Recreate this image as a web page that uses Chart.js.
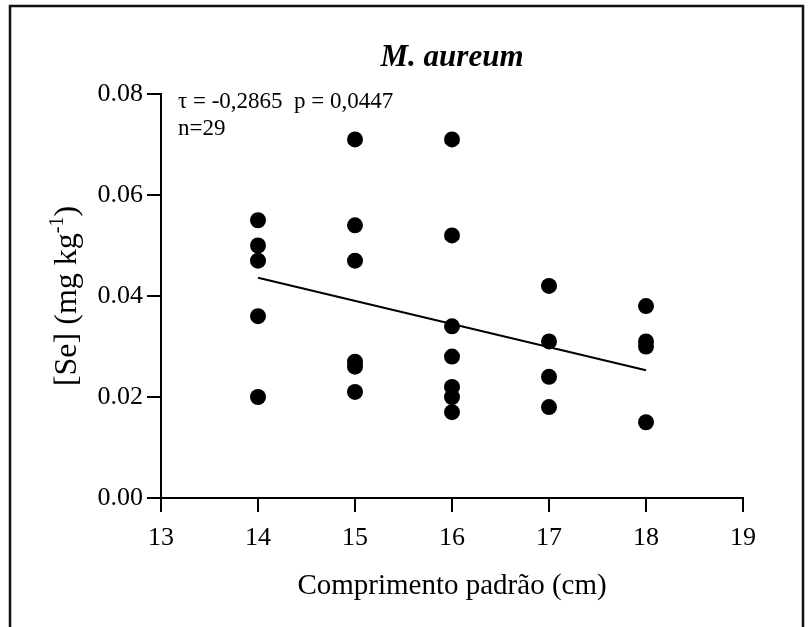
<!DOCTYPE html>
<html>
<head>
<meta charset="utf-8">
<script src="https://cdn.jsdelivr.net/npm/chart.js@4/dist/chart.umd.min.js"></script>
<style>
  html, body { margin: 0; padding: 0; background: #fff; }
  #wrap { width: 811px; height: 627px; position: relative; }
</style>
</head>
<body>
<div id="wrap"><canvas id="chart" width="811" height="627"></canvas></div>
<script>
// Standard length (cm) and selenium concentration (mg/kg) for each fish
const lengthCm = [
  14, 14, 14, 14, 14,
  15, 15, 15, 15, 15, 15,
  16, 16, 16, 16, 16, 16, 16,
  17, 17, 17, 17,
  18, 18, 18, 18
];
const seleniumMgKg = [
  0.055, 0.050, 0.047, 0.036, 0.020,
  0.071, 0.054, 0.047, 0.027, 0.026, 0.021,
  0.071, 0.052, 0.034, 0.028, 0.022, 0.020, 0.017,
  0.042, 0.031, 0.024, 0.018,
  0.038, 0.031, 0.030, 0.015
];

// Fitted trend line end points
const trendX = [14, 18];
const trendY = [0.0436, 0.0253];

// Axis ranges and tick steps
const xRange = [13, 19];
const yRange = [0, 0.08];
const xStep = 1;
const yStep = 0.02;

// Text
const chartTitle = 'M. aureum';
const statsLine1 = 'τ = -0,2865  p = 0,0447';
const statsLine2 = 'n=29';
const xTitle = 'Comprimento padrão (cm)';
const yTitleMain = '[Se] (mg kg';
const yTitleSup = '-1';
const yTitleEnd = ')';

const SERIF = '"Liberation Serif", "Times New Roman", serif';

const points = lengthCm.map((x, i) => ({ x: x, y: seleniumMgKg[i] }));
const trend = trendX.map((x, i) => ({ x: x, y: trendY[i] }));

// Draws the frame, title, statistics and axis titles
const textPlugin = {
  id: 'chartText',
  afterDraw(chart) {
    const ctx = chart.ctx;
    const area = chart.chartArea;
    const cx = (area.left + area.right) / 2;
    const cy = (area.top + area.bottom) / 2;
    ctx.save();
    ctx.fillStyle = '#000';
    ctx.strokeStyle = '#111';

    // outer frame
    ctx.lineWidth = 2.5;
    ctx.beginPath();
    ctx.moveTo(10, 640);
    ctx.lineTo(10, 6);
    ctx.lineTo(803, 6);
    ctx.lineTo(803, 640);
    ctx.stroke();

    // title
    ctx.font = 'italic bold 31px ' + SERIF;
    ctx.textAlign = 'center';
    ctx.textBaseline = 'alphabetic';
    ctx.fillText(chartTitle, cx, 66);

    // statistics
    ctx.font = '23px ' + SERIF;
    ctx.textAlign = 'left';
    ctx.fillText(statsLine1, area.left + 17, 108);
    ctx.fillText(statsLine2, area.left + 17, 135);

    // x axis title
    ctx.font = '29px ' + SERIF;
    ctx.textAlign = 'center';
    ctx.fillText(xTitle, cx, 594);

    // y axis title with superscript
    const mainFont = '32px ' + SERIF;
    const supFont = '20px ' + SERIF;
    ctx.font = mainFont;
    const w1 = ctx.measureText(yTitleMain).width;
    const w3 = ctx.measureText(yTitleEnd).width;
    ctx.font = supFont;
    const w2 = ctx.measureText(yTitleSup).width;
    const total = w1 + w2 + w3;
    ctx.translate(76, cy);
    ctx.rotate(-Math.PI / 2);
    ctx.textAlign = 'left';
    const x0 = -total / 2;
    ctx.font = mainFont;
    ctx.fillText(yTitleMain, x0, 0);
    ctx.font = supFont;
    ctx.fillText(yTitleSup, x0 + w1, -13);
    ctx.font = mainFont;
    ctx.fillText(yTitleEnd, x0 + w1 + w2, 0);

    ctx.restore();
  }
};

const axisCommon = {
  grid: {
    drawOnChartArea: false,
    drawTicks: true,
    color: '#000',
    lineWidth: 2,
    tickLength: 14,
    tickWidth: 2,
    tickColor: '#000'
  },
  border: { display: true, color: '#000', width: 2 }
};

new Chart(document.getElementById('chart'), {
  type: 'scatter',
  data: {
    datasets: [
      {
        label: 'trend',
        data: trend,
        showLine: true,
        borderColor: '#000',
        borderWidth: 2,
        pointRadius: 0,
        fill: false,
        order: 2
      },
      {
        label: 'Se',
        data: points,
        pointRadius: 8,
        pointHoverRadius: 8,
        backgroundColor: '#000',
        borderColor: '#000',
        borderWidth: 0,
        order: 1
      }
    ]
  },
  options: {
    responsive: false,
    devicePixelRatio: 1,
    animation: false,
    events: [],
    layout: { padding: { left: 0, right: 68, top: 94, bottom: 0 } },
    plugins: {
      legend: { display: false },
      tooltip: { enabled: false },
      title: { display: false }
    },
    scales: {
      x: {
        type: 'linear',
        min: xRange[0],
        max: xRange[1],
        ...axisCommon,
        ticks: {
          stepSize: xStep,
          color: '#000',
          padding: 11,
          font: { family: SERIF, size: 26 }
        },
        afterFit(scale) { scale.height = 129; }
      },
      y: {
        type: 'linear',
        min: yRange[0],
        max: yRange[1],
        ...axisCommon,
        ticks: {
          stepSize: yStep,
          color: '#000',
          padding: 4,
          font: { family: SERIF, size: 26 },
          callback: (v) => v.toFixed(2)
        },
        afterFit(scale) { scale.width = 161; }
      }
    }
  },
  plugins: [textPlugin]
});
</script>
</body>
</html>
